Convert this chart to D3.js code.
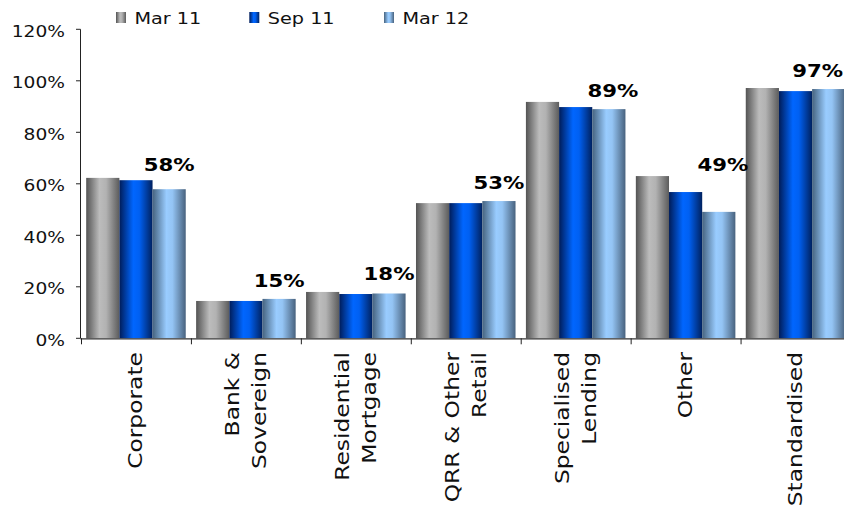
<!DOCTYPE html>
<html>
<head>
<meta charset="utf-8">
<script src="https://cdn.jsdelivr.net/npm/d3@7"></script>
<style>
  html, body { margin: 0; padding: 0; background: #fff; }
  svg { display: block; font-family: "DejaVu Sans", Verdana, sans-serif; }
</style>
</head>
<body>
<svg id="chart" width="844" height="509"></svg>
<script>
// ---- data ----
const categories = [
  ["Corporate"],
  ["Bank &", "Sovereign"],
  ["Residential", "Mortgage"],
  ["QRR & Other", "Retail"],
  ["Specialised", "Lending"],
  ["Other"],
  ["Standardised"]
];
const seriesNames = ["Mar 11", "Sep 11", "Mar 12"];
const mar11 = [62.3, 14.5, 18.0, 52.5, 91.8, 63.0, 97.2];
const sep11 = [61.4, 14.5, 17.2, 52.5, 89.8, 56.8, 96.0];
const mar12 = [57.9, 15.3, 17.4, 53.3, 89.0, 49.1, 96.8];
const dataLabels = ["58%", "15%", "18%", "53%", "89%", "49%", "97%"];
const yTicks = [0, 20, 40, 60, 80, 100, 120];
const yTickLabels = ["0%", "20%", "40%", "60%", "80%", "100%", "120%"];

// ---- layout ----
const svg = d3.select("#chart");
const SX = 1.18; // horizontal widening to mimic the wide Verdana rendering
const catKeys = categories.map(c => c.join(" "));
const series = [mar11, sep11, mar12];

const x = d3.scaleBand().domain(catKeys).range([81, 850.5]).padding(0);
const xs = d3.scaleBand().domain(seriesNames).range([5.2, x.bandwidth() - 5.2]).padding(0);
const y = d3.scaleLinear().domain([0, 120]).range([338.3, 29.3]);

// gradients
const defs = svg.append("defs");
const gradStops = [
  [["0%", "#535353"], ["40%", "#bcbcbc"], ["60%", "#b2b2b2"], ["100%", "#5c5c5c"]],
  [["0%", "#001c58"], ["42%", "#0066ff"], ["60%", "#0060f2"], ["100%", "#00215f"]],
  [["0%", "#46637f"], ["42%", "#99ccff"], ["60%", "#94c4f4"], ["100%", "#48627e"]]
];
gradStops.forEach((stops, i) => {
  const g = defs.append("linearGradient").attr("id", "g" + i)
    .attr("x1", "0%").attr("x2", "100%").attr("y1", "0%").attr("y2", "0%");
  stops.forEach(s => g.append("stop").attr("offset", s[0]).attr("stop-color", s[1]));
});

// bars
const groups = svg.append("g").selectAll("g").data(catKeys).join("g")
  .attr("transform", d => `translate(${x(d)},0)`);
groups.each(function(cat, ci) {
  d3.select(this).selectAll("rect").data(seriesNames).join("rect")
    .attr("x", s => xs(s))
    .attr("width", xs.bandwidth())
    .attr("y", (s, si) => y(series[si][ci]))
    .attr("height", (s, si) => y(0) - y(series[si][ci]))
    .attr("fill", (s, si) => `url(#g${si})`);
});

// y axis
const yAxis = svg.append("g");
yAxis.append("line").attr("x1", 80.5).attr("x2", 80.5).attr("y1", y(120)).attr("y2", y(0))
  .attr("stroke", "#222").attr("stroke-width", 1);
yTicks.forEach((t, i) => {
  yAxis.append("line").attr("x1", 76).attr("x2", 80.5).attr("y1", y(t)).attr("y2", y(t))
    .attr("stroke", "#222");
  yAxis.append("g").attr("transform", `translate(65,${y(t) + 7.5}) scale(${SX},1)`)
    .append("text").attr("text-anchor", "end").attr("font-size", 15.8).attr("fill", "#111")
    .text(yTickLabels[i]);
});

// x axis
const xAxis = svg.append("g");
xAxis.append("line").attr("x1", 80.5).attr("x2", 851).attr("y1", y(0) + 0.5).attr("y2", y(0) + 0.5)
  .attr("stroke", "#333").attr("stroke-width", 1.2);
catKeys.forEach(c => {
  xAxis.append("line").attr("x1", x(c) + 0.5).attr("x2", x(c) + 0.5)
    .attr("y1", y(0)).attr("y2", y(0) + 6).attr("stroke", "#222");
});
const lh = 27;
categories.forEach((lines, ci) => {
  const cx = x(catKeys[ci]) + x.bandwidth() / 2;
  const g = xAxis.append("g").attr("transform", `translate(${cx},352) rotate(-90) scale(1.2,1)`);
  lines.forEach((ln, li) => {
    g.append("text").attr("text-anchor", "end").attr("x", 0)
      .attr("y", (li - (lines.length - 1) / 2) * lh + 6.5)
      .attr("font-size", 19.5).attr("fill", "#111").text(ln);
  });
});

// data labels
const labelGap = [7, 12, 12, 12, 5, 5, 11];
const labelDx = [0, 0, 0, 0, 4, 4, -11];
dataLabels.forEach((lab, ci) => {
  const k = catKeys[ci];
  const top = d3.max(series, s => s[ci]);
  const cx = x(k) + xs("Mar 12") + xs.bandwidth() / 2 + labelDx[ci];
  svg.append("g").attr("transform", `translate(${cx},${y(top) - labelGap[ci]}) scale(${SX},1)`)
    .append("text").attr("text-anchor", "middle").attr("font-size", 18).attr("font-weight", "bold")
    .attr("fill", "#000").text(lab);
});

// legend
const legX = [116, 249.3, 384];
seriesNames.forEach((s, i) => {
  svg.append("rect").attr("x", legX[i]).attr("y", 12).attr("width", 10).attr("height", 11)
    .attr("fill", `url(#g${i})`);
  svg.append("g").attr("transform", `translate(${legX[i] + 18.5},24) scale(${SX},1)`)
    .append("text").attr("font-size", 16.3).attr("fill", "#111").text(s);
});
</script>
</body>
</html>
